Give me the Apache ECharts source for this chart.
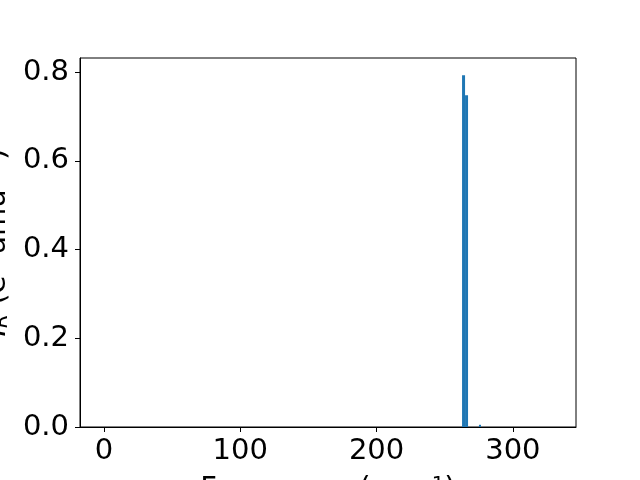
<!DOCTYPE html>
<html>
<head>
<meta charset="utf-8">
<script src="https://cdn.jsdelivr.net/npm/echarts@6/dist/echarts.min.js"></script>
<style>html,body{margin:0;padding:0;background:#fff}#c{width:640px;height:480px}</style>
</head>
<body>
<div id="c"></div>
<script>
// Histogram bins (left edge, right edge in cm^-1) and intensities
const binLeft = [262.7, 264.9, 275.1];
const binRight = [264.9, 267.1, 276.6];
const intensity = [0.793, 0.748, 0.005];
const xTicks = [0, 100, 200, 300];
const yTicks = [0, 0.2, 0.4, 0.6, 0.8];
const xRange = [-17.6, 346.3];
const yRange = [0, 0.832];

const data = binLeft.map((l, i) => [l, binRight[i], intensity[i]]);
const font = 'DejaVu Sans';
const fs = 29;
const chart = echarts.init(document.getElementById('c'), null, {renderer: 'canvas'});
chart.setOption({
  animation: false,
  backgroundColor: '#fff',
  grid: {left: 80, right: 64, top: 58, bottom: 53, containLabel: false, outerBoundsMode: 'none', show: true, borderColor: '#000', borderWidth: 1, backgroundColor: 'transparent'},
  xAxis: {
    type: 'value', min: xRange[0], max: xRange[1],
    name: '{t|Frequency (cm}{sup|−1}{t|)}', nameLocation: 'middle', nameGap: 48,
    nameTextStyle: {rich: {t: {fontFamily: font, fontSize: fs, color: '#000'}, sup: {fontFamily: font, fontSize: 20, color: '#000', verticalAlign: 'top'}}},
    splitLine: {show: false},
    axisLine: {show: true, onZero: false, lineStyle: {color: '#000', width: 1}},
    axisTick: {show: true, length: 5, lineStyle: {color: '#000', width: 1}, customValues: xTicks},
    axisLabel: {fontFamily: font, fontSize: fs, color: '#000', margin: 10, customValues: xTicks, formatter: v => String(v)}
  },
  yAxis: {
    type: 'value', min: yRange[0], max: yRange[1],
    name: '{i|I}{sub|R}{t| (e}{sup|2}{t| amu}{sup|−1}{t|)}', nameLocation: 'middle', nameRotate: 90, nameGap: 68,
    nameTextStyle: {rich: {
      i: {fontFamily: font, fontSize: fs, fontStyle: 'italic', color: '#000'},
      t: {fontFamily: font, fontSize: fs, color: '#000'},
      sub: {fontFamily: font, fontSize: 20, fontStyle: 'italic', color: '#000', verticalAlign: 'bottom'},
      sup: {fontFamily: font, fontSize: 20, color: '#000', verticalAlign: 'top'}
    }},
    splitLine: {show: false},
    axisLine: {show: true, onZero: false, lineStyle: {color: '#000', width: 1}},
    axisTick: {show: true, length: 5, lineStyle: {color: '#000', width: 1}, customValues: yTicks},
    axisLabel: {fontFamily: font, fontSize: fs, color: '#000', margin: 11, customValues: yTicks, formatter: v => v.toFixed(1)}
  },
  series: [{
    type: 'custom',
    clip: true,
    data: data,
    encode: {x: [0, 1], y: 2},
    renderItem: function (params, api) {
      const p0 = api.coord([api.value(0), 0]);
      const p1 = api.coord([api.value(1), api.value(2)]);
      return {
        type: 'rect',
        shape: {x: p0[0], y: p1[1], width: p1[0] - p0[0], height: p0[1] - p1[1]},
        style: {fill: '#1f77b4'}
      };
    }
  }]
});
</script>
</body>
</html>
